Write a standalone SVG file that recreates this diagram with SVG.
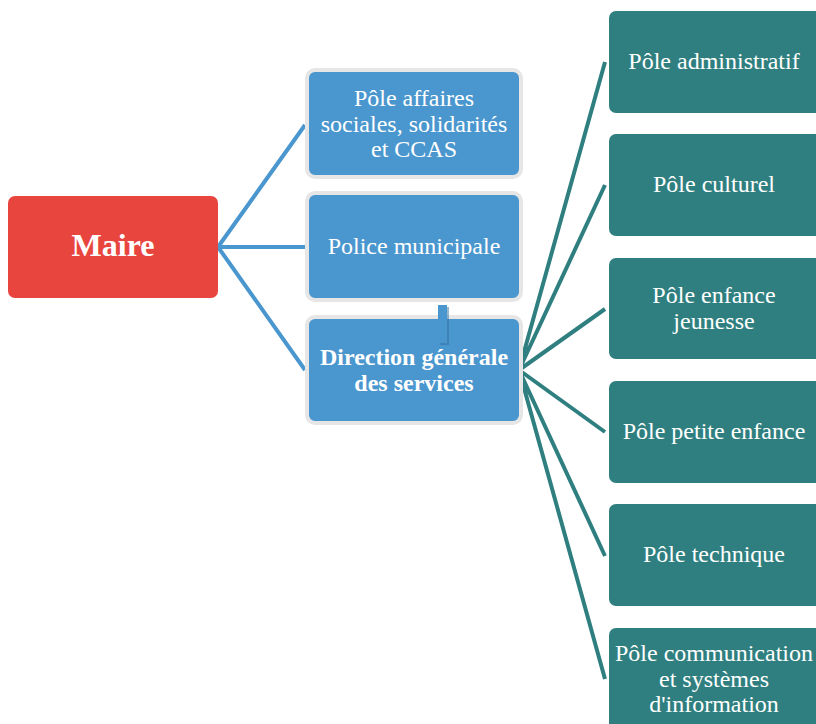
<svg xmlns="http://www.w3.org/2000/svg" width="816" height="724" viewBox="0 0 816 724">
<style>
.t{font-family:"Liberation Serif","Times New Roman",serif;fill:#fff;text-anchor:middle;dominant-baseline:central}
.tb{font-size:24px}
.tm{font-size:32px;font-weight:bold}
.bl{fill:#4A96CE;stroke:#E6E6E6;stroke-width:4}
.tl{fill:#2F7F80}
.cb{stroke:#4A96CE;stroke-width:4;fill:none}
.ct{stroke:#2F7F80;stroke-width:4;fill:none}
</style>
<rect width="816" height="724" fill="#fff"/>
<g id="connectors">
<path class="cb" d="M218,247 L305,125 M218,247 L305,247 M218,247 L305,370"/>
<path class="ct" d="M519,370 L605,62 M519,370 L605,185 M519,370 L605,309 M519,370 L605,432 M519,370 L605,556 M519,370 L605,679"/>
</g>
<g id="maire">
<rect x="8" y="196" width="210" height="102" rx="7" fill="#E8453F"/>
<text class="t tm" x="113" y="245">Maire</text>
</g>
<g id="pole-affaires">
<rect class="bl" x="307" y="70" width="214" height="107" rx="8"/>
<text class="t tb" x="414" y="98">Pôle affaires</text>
<text class="t tb" x="414" y="124">sociales, solidarités</text>
<text class="t tb" x="414" y="149">et CCAS</text>
</g>
<g id="police">
<rect class="bl" x="307" y="193" width="214" height="107" rx="8"/>
<text class="t tb" x="414" y="246">Police municipale</text>
</g>
<g id="dgs">
<rect class="bl" x="307" y="317" width="214" height="106" rx="8"/>
<text class="t tb" x="414" y="357" font-weight="bold">Direction générale</text>
<text class="t tb" x="414" y="383" font-weight="bold">des services</text>
</g>
<g id="link-small">
<rect x="440" y="307" width="9" height="38" fill="#2F6F9F" opacity="0.5"/>
<rect x="438" y="305" width="9" height="38" fill="#4A96CE"/>
</g>
<g id="pole-admin">
<rect class="tl" x="609" y="11" width="215" height="102" rx="7"/>
<text class="t tb" x="714" y="61">Pôle administratif</text>
</g>
<g id="pole-culturel">
<rect class="tl" x="609" y="134" width="215" height="102" rx="7"/>
<text class="t tb" x="714" y="184">Pôle culturel</text>
</g>
<g id="pole-enfance">
<rect class="tl" x="609" y="258" width="215" height="101" rx="7"/>
<text class="t tb" x="714" y="295">Pôle enfance</text>
<text class="t tb" x="714" y="321">jeunesse</text>
</g>
<g id="pole-petite">
<rect class="tl" x="609" y="381" width="215" height="102" rx="7"/>
<text class="t tb" x="714" y="431">Pôle petite enfance</text>
</g>
<g id="pole-technique">
<rect class="tl" x="609" y="504" width="215" height="102" rx="7"/>
<text class="t tb" x="714" y="554">Pôle technique</text>
</g>
<g id="pole-comm">
<rect class="tl" x="609" y="628" width="215" height="102" rx="7"/>
<text class="t tb" x="714" y="653">Pôle communication</text>
<text class="t tb" x="714" y="679">et systèmes</text>
<text class="t tb" x="714" y="704">d'information</text>
</g>
</svg>
